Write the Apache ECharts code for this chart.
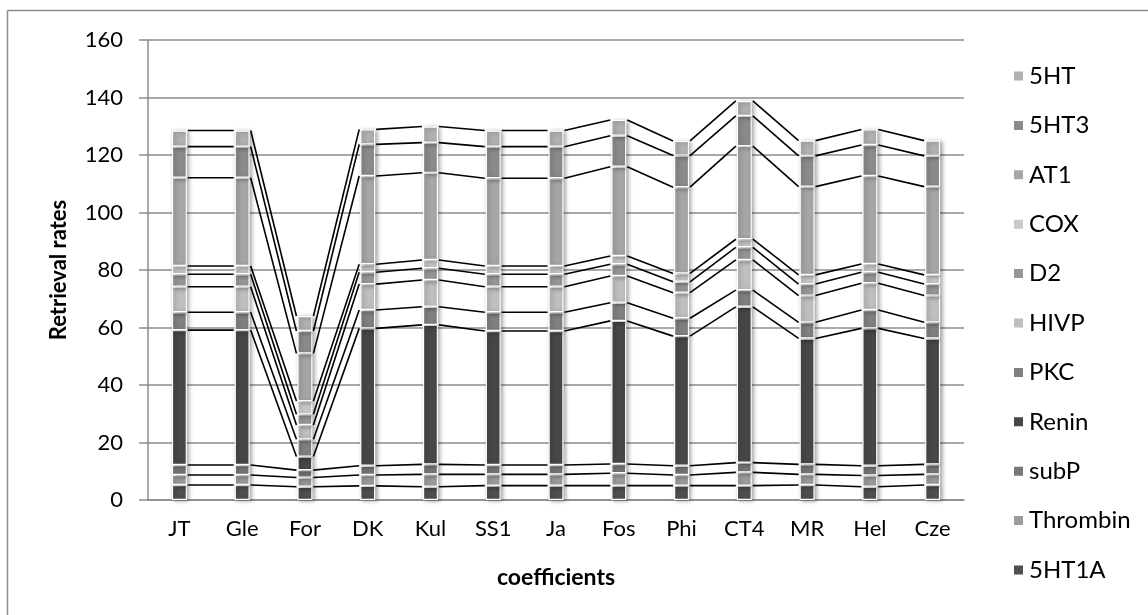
<!DOCTYPE html>
<html>
<head>
<meta charset="utf-8">
<script src="https://cdn.jsdelivr.net/npm/echarts@6/dist/echarts.min.js"></script>
<style>html,body{margin:0;padding:0;background:#fff;}#c{width:1148px;height:615px;}</style>
</head>
<body>
<div id="c"></div>
<script>
const categories = ['JT','Gle','For','DK','Kul','SS1','Ja','Fos','Phi','CT4','MR','Hel','Cze'];
const yTicks = [0,20,40,60,80,100,120,140,160];
// stack order, bottom to top
const s5HT1A   = [5.2,5.2,4.6,4.9,4.6,5.0,5.0,5.0,5.0,5.0,5.2,4.6,5.2];
const sThrombin= [3.5,3.5,3.2,3.8,4.3,3.9,3.9,4.3,3.7,4.6,3.7,3.9,3.7];
const sSubP    = [3.5,3.5,2.6,3.2,3.5,3.3,3.3,3.2,3.2,3.4,3.5,3.4,3.5];
const sRenin   = [46.9,46.9,4.7,47.8,48.5,46.6,46.6,49.8,45.1,54.2,43.8,47.8,43.8];
const sPKC     = [6.2,6.2,6.0,6.4,6.3,6.5,6.5,6.3,6.2,5.8,5.6,6.4,5.6];
const sHIVP    = [8.9,8.9,5.0,9.0,9.3,8.9,8.9,9.3,8.9,10.5,9.3,9.3,9.3];
const sD2      = [4.3,4.3,3.7,4.1,4.1,4.3,4.3,4.1,3.8,4.4,4.0,3.8,4.0];
const sCOX     = [2.9,2.9,4.6,2.8,2.9,2.9,2.9,2.9,2.9,2.8,3.2,2.9,3.2];
const sAT1     = [30.7,30.7,16.6,30.7,30.3,30.5,30.5,31.0,30.0,32.4,30.7,30.6,30.7];
const s5HT3    = [10.8,10.8,7.8,11.0,10.5,11.0,11.0,10.8,11.0,10.5,10.7,10.8,10.7];
const s5HT     = [5.6,5.6,5.2,5.2,5.6,5.6,5.6,5.5,5.1,5.2,5.3,5.4,5.3];

const seriesNames = ['5HT1A','Thrombin','subP','Renin','PKC','HIVP','D2','COX','AT1','5HT3','5HT'];
const seriesData = [s5HT1A,sThrombin,sSubP,sRenin,sPKC,sHIVP,sD2,sCOX,sAT1,s5HT3,s5HT];
const colors = ['#4f4f4f','#9c9c9c','#777777','#474747','#808080','#bfbfbf','#979797','#cacaca','#a6a6a6','#8b8b8b','#b1b1b1'];

const BAR_W = 15;
const FONT = 'Lato, "Liberation Sans", sans-serif';

// cumulative tops for series lines
const cum = seriesData.map(() => []);
for (let i = 0; i < categories.length; i++) {
  let acc = 0;
  for (let k = 0; k < seriesData.length; k++) { acc += seriesData[k][i]; cum[k][i] = acc; }
}

const series = seriesNames.map((n, k) => ({
  name: n, type: 'bar', stack: 'all', barWidth: BAR_W,
  data: seriesData[k],
  itemStyle: { color: colors[k], borderColor: '#ffffff', borderWidth: 1.2,
    shadowColor: 'rgba(0,0,0,0.35)', shadowBlur: 4, shadowOffsetX: 2, shadowOffsetY: 1 },
  emphasis: { disabled: true }, z: 2
}));

series.push({
  type: 'custom', name: 'serieslines', silent: true, z: 3,
  data: categories.slice(0, -1).map((c, i) => [i]),
  encode: { x: 0 },
  renderItem: function (params, api) {
    const i = params.dataIndex;
    const children = [];
    for (let k = 0; k < cum.length; k++) {
      const p1 = api.coord([i, cum[k][i]]);
      const p2 = api.coord([i + 1, cum[k][i + 1]]);
      children.push({ type: 'line', shape: { x1: p1[0] + BAR_W / 2 + 1, y1: p1[1], x2: p2[0] - BAR_W / 2 - 1, y2: p2[1] },
        style: { stroke: '#000', lineWidth: 1.6 } });
    }
    return { type: 'group', children: children };
  }
});

const chart = echarts.init(document.getElementById('c'), null, { renderer: 'canvas' });
chart.setOption({
  animation: false,
  backgroundColor: '#fff',
  textStyle: { fontFamily: FONT },
  grid: { left: 148, right: 184, top: 40, bottom: 115 },
  legend: {
    orient: 'vertical', left: 1007, top: 59,
    data: seriesNames.slice().reverse(),
    icon: 'rect', itemWidth: 11, itemHeight: 11, itemGap: 25.4,
    textStyle: { fontFamily: FONT, fontSize: 24, color: '#000', lineHeight: 24 }
  },
  xAxis: {
    type: 'category', data: categories,
    name: 'coefficients', nameLocation: 'middle', nameGap: 66,
    nameTextStyle: { fontFamily: FONT, fontSize: 23, fontWeight: 'bold', color: '#000' },
    axisLine: { lineStyle: { color: '#8c8c8c', width: 1.5 } },
    axisTick: { show: false },
    axisLabel: { fontFamily: FONT, fontSize: 22, color: '#000', margin: 18 }
  },
  yAxis: {
    type: 'value', min: 0, max: 160, interval: 20,
    name: 'Retrieval rates', nameLocation: 'middle', nameGap: 78,
    nameTextStyle: { fontFamily: FONT, fontSize: 22, fontWeight: 'bold', color: '#000' },
    axisLine: { show: true, lineStyle: { color: '#8c8c8c', width: 1.5 } },
    axisTick: { show: true, length: 9, lineStyle: { color: '#8c8c8c', width: 1.5 } },
    splitLine: { lineStyle: { color: '#8c8c8c', width: 1.5 } },
    axisLabel: { fontFamily: FONT, fontSize: 22, color: '#000', margin: 25,
      formatter: v => (yTicks.indexOf(v) >= 0 ? String(v) : '') }
  },
  graphic: [
    { type: 'line', shape: { x1: 7.5, y1: 10.5, x2: 1148, y2: 10.5 }, style: { stroke: '#8c8c8c', lineWidth: 1.5 }, silent: true },
    { type: 'line', shape: { x1: 7.5, y1: 10.5, x2: 7.5, y2: 615 }, style: { stroke: '#8c8c8c', lineWidth: 1.5 }, silent: true }
  ],
  series: series
});
</script>
</body>
</html>
